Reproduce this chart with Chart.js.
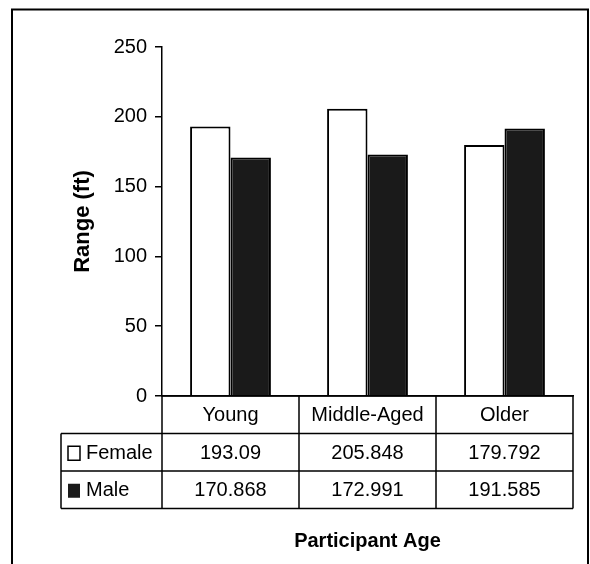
<!DOCTYPE html>
<html>
<head>
<meta charset="utf-8">
<script src="https://cdn.jsdelivr.net/npm/chart.js@4/dist/chart.umd.min.js"></script>
<style>
  html, body { margin: 0; padding: 0; background: #fff; }
  #wrap { width: 590px; height: 564px; }
</style>
</head>
<body>
<div id="wrap"><canvas id="chart" width="590" height="564"></canvas></div>
<script>
// values
const ages = ['Young', 'Middle-Aged', 'Older'];
const female = [193.09, 205.848, 179.792];
const male = [170.868, 172.991, 191.585];
const yTicks = [0, 50, 100, 150, 200, 250];

const FONT = "'Liberation Sans', Arial, Helvetica, sans-serif";
const MALE_FILL = '#1a1a1a';

// border round the whole figure + data table under the axis
const tablePlugin = {
    id: 'dataTable',
    beforeDraw(chart) {
        const ctx = chart.ctx;
        ctx.save();
        ctx.strokeStyle = '#000';
        ctx.lineWidth = 2;
        ctx.strokeRect(12, 9.5, 576, 600);
        ctx.restore();
    },
    afterDraw(chart) {
        const ctx = chart.ctx;
        const x = chart.scales.x;
        const area = chart.chartArea;
        const colW = (x.right - x.left) / ages.length;
        const rows = [area.bottom, area.bottom + 37.5, area.bottom + 75, area.bottom + 112.5];
        const labelLeft = 61;

        ctx.save();
        ctx.strokeStyle = '#000';
        ctx.lineWidth = 1.5;

        // horizontal lines
        ctx.beginPath();
        ctx.moveTo(x.left, rows[0]); ctx.lineTo(x.right, rows[0]);
        for (let i = 1; i < rows.length; i++) {
            ctx.moveTo(labelLeft, rows[i]); ctx.lineTo(x.right, rows[i]);
        }
        // vertical lines
        for (let i = 0; i <= ages.length; i++) {
            const px = x.left + i * colW;
            ctx.moveTo(px, rows[0]); ctx.lineTo(px, rows[3]);
        }
        ctx.moveTo(labelLeft, rows[1]); ctx.lineTo(labelLeft, rows[3]);
        ctx.stroke();

        ctx.fillStyle = '#000';
        ctx.font = '20px ' + FONT;
        ctx.textAlign = 'center';
        ctx.textBaseline = 'middle';
        ages.forEach((a, i) => {
            const cx = x.left + (i + 0.5) * colW;
            ctx.fillText(a, cx, (rows[0] + rows[1]) / 2 + 1);
            ctx.fillText(String(female[i]), cx, (rows[1] + rows[2]) / 2 + 1);
            ctx.fillText(String(male[i]), cx, (rows[2] + rows[3]) / 2 + 1);
        });

        // legend keys
        ctx.textAlign = 'left';
        ctx.lineWidth = 1.5;
        ctx.fillStyle = '#fff';
        ctx.fillRect(68, (rows[1] + rows[2]) / 2 - 6, 12, 14);
        ctx.strokeRect(68, (rows[1] + rows[2]) / 2 - 6, 12, 14);
        ctx.fillStyle = MALE_FILL;
        ctx.fillRect(68, (rows[2] + rows[3]) / 2 - 6, 12, 14);
        ctx.fillStyle = '#000';
        ctx.fillText('Female', 86, (rows[1] + rows[2]) / 2 + 1);
        ctx.fillText('Male', 86, (rows[2] + rows[3]) / 2 + 1);
        ctx.restore();
    }
};

new Chart(document.getElementById('chart').getContext('2d'), {
    type: 'bar',
    plugins: [tablePlugin],
    data: {
        labels: ages,
        datasets: [{
            label: 'Female',
            data: female,
            backgroundColor: '#fff',
            borderColor: '#000',
            borderWidth: 2,
            barPercentage: 1,
            categoryPercentage: 0.59
        }, {
            label: 'Male',
            data: male,
            backgroundColor: MALE_FILL,
            borderColor: '#000',
            borderWidth: 2,
            barPercentage: 1,
            categoryPercentage: 0.59
        }]
    },
    options: {
        responsive: false,
        animation: false,
        layout: {
            padding: { top: 47, right: 17, bottom: 0, left: 0 }
        },
        plugins: {
            legend: { display: false },
            tooltip: { enabled: false }
        },
        scales: {
            y: {
                min: 0,
                max: 250,
                afterBuildTicks: (s) => { s.ticks = yTicks.map((v) => ({ value: v })); },
                afterFit: (s) => { s.width = 162; },
                grid: {
                    display: true,
                    drawOnChartArea: false,
                    drawTicks: true,
                    tickLength: 7,
                    color: '#000',
                    lineWidth: 1.5
                },
                border: { display: true, color: '#000', width: 1.5 },
                ticks: {
                    color: '#000',
                    padding: 8,
                    font: { size: 20, family: FONT }
                },
                title: {
                    display: true,
                    text: 'Range (ft)',
                    color: '#000',
                    padding: { top: 70, bottom: 0 },
                    font: { size: 22, weight: 'bold', family: FONT }
                }
            },
            x: {
                afterFit: (s) => { s.height = 168; },
                grid: { display: false },
                border: { display: true, color: '#000', width: 1.5 },
                ticks: { display: false },
                title: {
                    display: true,
                    text: 'Participant Age',
                    color: '#000',
                    padding: { top: 0, bottom: 11 },
                    font: { size: 20, weight: 'bold', family: FONT }
                }
            }
        }
    }
});
</script>
</body>
</html>
